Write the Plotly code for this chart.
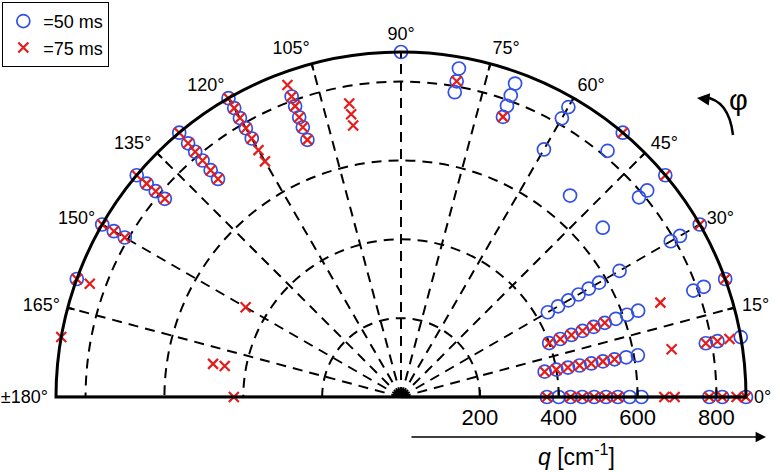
import plotly.graph_objects as go

# ---- data ----
theta50 = [0, 0, 0, 0, 0, 0, 0, 0, 0, 0, 0, 0,
           10, 10, 10, 10, 10, 10, 10, 10, 10, 10, 10, 10,
           20, 20, 20, 20, 20, 20, 20, 20, 20, 20, 20, 20,
           30, 30, 30, 30, 30, 30, 30, 30, 30, 30,
           40, 40, 40, 40,
           50, 50, 50,
           60, 60, 60,
           70, 70, 70, 70,
           80, 80, 80,
           90,
           110, 110, 110, 110, 110,
           120, 120, 120, 120, 120,
           130, 130, 130, 130, 130, 130,
           140, 140, 140, 140,
           150, 150, 150,
           160]
q50 = [370, 400, 430, 460, 490, 520, 550, 580, 610, 782, 815, 875,
       370, 400, 430, 460, 490, 520, 550, 580, 610, 785, 815, 875,
       400, 430, 460, 490, 520, 550, 580, 610, 640, 789, 817, 875,
       430, 460, 490, 520, 550, 580, 640, 790, 817, 875,
       668, 788, 815, 875,
       667, 815, 875,
       725, 816, 849,
       756, 786, 814, 846,
       785, 813, 846,
       875,
       811, 785, 755, 728, 694,
       875, 846, 817, 787, 757,
       875, 840, 812, 783, 751, 722,
       875, 842, 812, 782,
       875, 841, 809,
       875]

theta75 = [0, 0, 0, 0, 0, 0, 0, 0, 0, 0, 0, 0,
           10, 10, 10, 10, 10, 10, 10, 10, 10, 10, 10,
           20, 20, 20, 20, 20, 20, 20, 20,
           30, 40, 50, 70, 80,
           100, 100, 100,
           110, 110, 110, 110, 110, 110,
           120, 120, 120, 120, 120, 120, 120,
           130, 130, 130, 130, 130, 130,
           140, 140, 140, 140,
           150, 150, 150, 150,
           160, 160,
           170, 170, 170,
           180]
q75 = [370, 430, 460, 490, 520, 550, 668, 694, 782, 815, 851, 875,
       370, 400, 430, 460, 490, 520, 550, 697, 785, 815, 846,
       400, 430, 460, 490, 520, 550, 700, 875,
       875, 875, 875, 756, 813,
       756, 728, 699,
       842, 811, 785, 755, 728, 694,
       875, 846, 817, 787, 757, 723, 690,
       875, 840, 812, 783, 751, 722,
       875, 842, 812, 782,
       875, 841, 809, 455,
       875, 840,
       875, 484, 454,
       424]

series_names = ["=50 ms", "=75 ms"]
angle_ticks = [0, 15, 30, 45, 60, 75, 90, 105, 120, 135, 150, 165, 180]
angle_labels = ["0°", "15°", "30°", "45°", "60°", "75°", "90°", "105°",
                "120°", "135°", "150°", "165°", "±180°"]
q_ticks = [200, 400, 600, 800]
q_max = 875

BLUE = "rgb(50,80,228)"
RED = "rgb(228,28,28)"
FONT = "Arial, Liberation Sans, Helvetica, sans-serif"
GRID_DASH = "10px,7px"

fig = go.Figure()

# left half of the baseline (the right half is the radial axis line)
fig.add_trace(go.Scatterpolar(r=[q_max, 0], theta=[180, 180], mode="lines",
                              line=dict(color="black", width=2.5),
                              showlegend=False, hoverinfo="skip"))

# short inward ticks on the outer rim
tick_r, tick_t = [], []
for a in angle_ticks:
    tick_r += [q_max, q_max - 18, None]
    tick_t += [a, a, None]
fig.add_trace(go.Scatterpolar(r=tick_r, theta=tick_t, mode="lines",
                              line=dict(color="black", width=2),
                              showlegend=False, hoverinfo="skip"))

# small filled half-disc at the origin
semi_t = [i * 5 for i in range(37)]
fig.add_trace(go.Scatterpolar(r=[20] * len(semi_t), theta=semi_t, mode="lines",
                              fill="toself", fillcolor="black",
                              line=dict(color="black", width=1),
                              showlegend=False, hoverinfo="skip"))

fig.add_trace(go.Scatterpolar(r=q50, theta=theta50, mode="markers", name=series_names[0],
                              marker=dict(symbol="circle-open", size=13, color=BLUE,
                                          line=dict(width=1.7))))
fig.add_trace(go.Scatterpolar(r=q75, theta=theta75, mode="markers", name=series_names[1],
                              marker=dict(symbol="x-thin-open", size=10, color=RED,
                                          line=dict(width=2.2))))

fig.update_layout(
    width=780, height=472,
    margin=dict(l=0, r=0, t=0, b=0),
    paper_bgcolor="white",
    font=dict(family=FONT, size=18, color="black"),
    polar=dict(
        domain=dict(x=[56 / 780, 746 / 780], y=[1 - 397 / 472, 1 - 52 / 472]),
        sector=[0, 180],
        bgcolor="white",
        radialaxis=dict(range=[0, q_max], tickvals=q_ticks, ticktext=[str(v) for v in q_ticks],
                        angle=0, side="clockwise", showline=True, linecolor="black",
                        linewidth=2.5, ticks="inside", ticklen=6, tickwidth=1.5,
                        tickcolor="black", showgrid=True, gridcolor="black",
                        griddash=GRID_DASH, gridwidth=1.5,
                        tickfont=dict(size=22, family=FONT)),
        angularaxis=dict(tickmode="array", tickvals=angle_ticks, ticktext=angle_labels,
                         direction="counterclockwise", rotation=0, showline=True,
                         linecolor="black", linewidth=3, ticks="outside", ticklen=3,
                         tickcolor="rgba(0,0,0,0)", showgrid=True, gridcolor="black",
                         griddash=GRID_DASH, gridwidth=1.5,
                         tickfont=dict(size=18, family=FONT)),
    ),
    legend=dict(x=0.003, y=0.996, xanchor="left", yanchor="top",
                bordercolor="black", borderwidth=1, bgcolor="white",
                font=dict(size=18, family=FONT), tracegroupgap=0),
    annotations=[
        dict(x=766 / 780, y=1 - 437 / 472, xref="paper", yref="paper", text="",
             showarrow=True, ax=-356, ay=0, arrowhead=2, arrowsize=1.3,
             arrowwidth=1.6, arrowcolor="black"),
        dict(x=576 / 780, y=1 - 455 / 472, xref="paper", yref="paper",
             xanchor="center", yanchor="middle",
             text="<i>q</i> [cm<sup>-1</sup>]", showarrow=False,
             font=dict(size=23, family=FONT)),
        dict(x=738 / 780, y=1 - 100 / 472, xref="paper", yref="paper",
             xanchor="center", yanchor="middle", text="φ",
             showarrow=False, font=dict(size=29, family=FONT)),
        dict(x=697 / 780, y=1 - 98 / 472, xref="paper", yref="paper", text="",
             showarrow=True, ax=9, ay=1, arrowhead=2, arrowsize=1.0,
             arrowwidth=2.5, arrowcolor="black"),
    ],
    shapes=[
        dict(type="path", xref="paper", yref="paper",
             path=f"M {733/780},{1-135/472} Q {729/780},{1-100/472} {704/780},{1-97/472}",
             line=dict(color="black", width=2.5)),
    ],
)

fig.write_html("out.html", config={"displayModeBar": False},
               post_script="document.body.style.margin='0';")
